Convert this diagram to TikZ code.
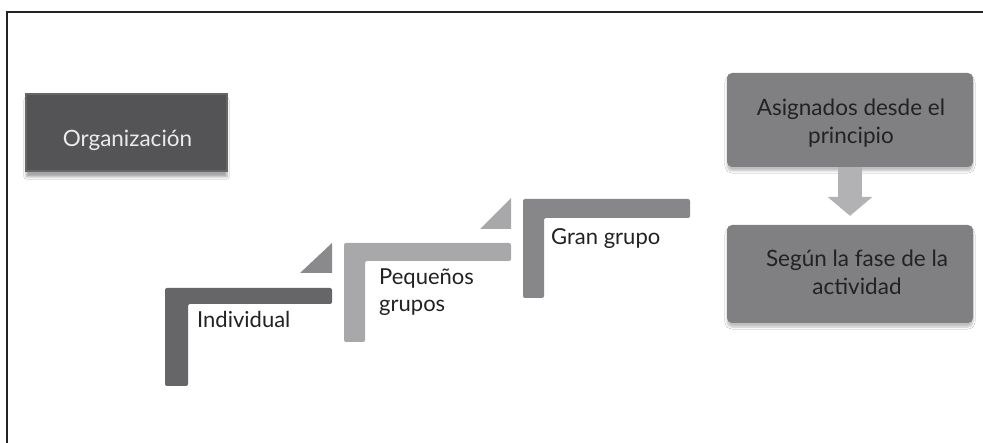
\documentclass[tikz,border=0pt]{standalone}
\usepackage{fontspec}
\setmainfont{Lato}
\usetikzlibrary{arrows.meta,shadows.blur,calc}
\definecolor{framec}{HTML}{222222}
\definecolor{orgfill}{HTML}{545456}
\definecolor{orgedge}{HTML}{666668}
\definecolor{lone}{HTML}{666668}
\definecolor{ltwo}{HTML}{A8A8AA}
\definecolor{lthree}{HTML}{87878A}
\definecolor{tone}{HTML}{8A8A8C}
\definecolor{ttwo}{HTML}{A8A8AA}
\definecolor{boxfill}{HTML}{808082}
\definecolor{arrowc}{HTML}{B2B2B4}
\definecolor{txt}{HTML}{222222}
\tikzset{
  lbar/.style={rounded corners=2pt},
  lbl/.style={font=\fontsize{22}{27.4}\selectfont, text=txt, inner sep=0pt},
  rbox/.style={fill=boxfill, rounded corners=5pt, minimum width=246pt,
     blur shadow={shadow xshift=0pt, shadow yshift=-4pt, shadow blur steps=8, shadow opacity=25}},
  btxt/.style={align=center, text=txt, inner sep=0pt, font=\fontsize{22.5}{28.3}\selectfont},
}
\begin{document}
\begin{tikzpicture}[x=1pt,y=-1pt]
\useasboundingbox (0,0) rectangle (983,443);
\fill[white] (0,0) rectangle (983,443);
% frame
\draw[framec, line width=2.5pt] (7,445) -- (7,12) -- (985,12);
% Organizacion
\node[fill=orgfill, draw=orgedge, line width=2pt, minimum width=201pt, minimum height=77pt,
  blur shadow={shadow xshift=0pt, shadow yshift=-6pt, shadow blur steps=10, shadow opacity=35}] (org) at (126.5,132.5) {};
\node[inner sep=0pt, anchor=base, font=\fontsize{22.5}{26}\selectfont, text=white!92!black] (orgt) at (127.5,146.7) {Organización};
% L shapes
\fill[lone, lbar] (165,386) -- (165,288) -- (332,288) -- (332,304) -- (188,304) -- (188,386) -- cycle;
\fill[tone] (300,273) -- (332,243) -- (332,273) -- cycle;
\fill[ltwo, lbar] (344,342) -- (344,243) -- (511,243) -- (511,261) -- (365,261) -- (365,342) -- cycle;
\fill[ttwo] (480,229) -- (511,198) -- (511,229) -- cycle;
\fill[lthree, lbar] (523,298) -- (523,199) -- (690,199) -- (690,218) -- (544,218) -- (544,298) -- cycle;
% labels
\node[lbl, anchor=base west] (ind) at (197,328) {Individual};
\node[lbl, anchor=base west, align=left] (peq) at (379,311.7) {Pequeños\\grupos};
\node[lbl, anchor=base west] (gran) at (551,245) {Gran grupo};
% right boxes
\node[rbox, minimum height=94pt] (b1) at (850,120) {};
\node[rbox, minimum height=98pt] (b2) at (850,274) {};
\node[btxt, anchor=base] (b1t) at (851,144) {Asignados desde el\\principio};
\node[btxt, anchor=base] (b2t) at (857,295) {Según la fase de la\\actividad};
\draw[arrowc, line width=24pt, -{Triangle[width=44pt,length=19pt]}, shorten >=9pt] (b1.south) -- (b2.north);
\end{tikzpicture}
\end{document}
